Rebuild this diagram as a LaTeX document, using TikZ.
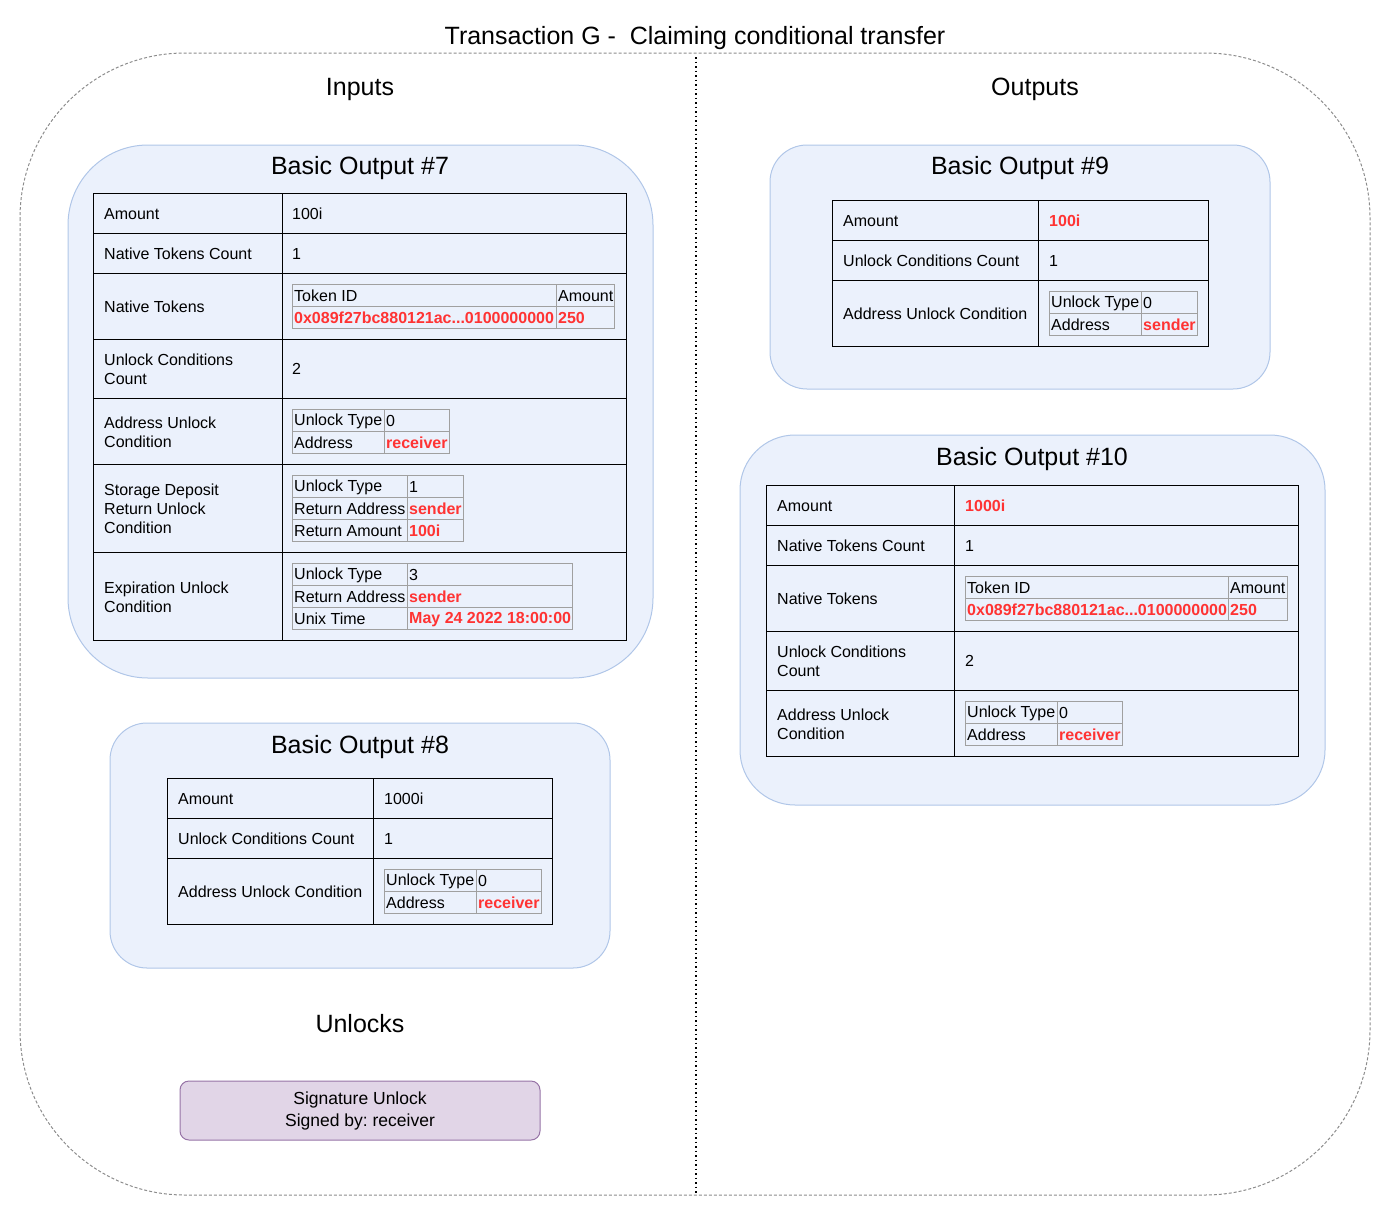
\documentclass[tikz,border=0pt]{standalone}
\usepackage{fontspec}
\setmainfont{Liberation Sans}
\frenchspacing
\definecolor{contfill}{RGB}{235,241,252}
\definecolor{contstroke}{RGB}{176,198,232}
\definecolor{igray}{RGB}{160,160,160}
\definecolor{redc}{RGB}{255,51,51}
\definecolor{outl}{RGB}{140,140,140}
\definecolor{sigfill}{RGB}{225,213,231}
\definecolor{sigdraw}{RGB}{150,115,166}
\newcommand\tf{\fontsize{16}{19}\selectfont}
\newcommand\hf{\fontsize{25}{30}\selectfont}
\newcommand\rv[1]{\textcolor{redc}{\bfseries #1}}
\tikzset{
  cont/.style={draw=contstroke, fill=contfill, line width=1pt},
  tbl/.style={draw=black, line width=1pt},
  itbl/.style={draw=igray, line width=1pt},
  txt/.style={anchor=west, inner sep=0pt, font=\tf, align=left, yshift=-1.2pt},
  ttl/.style={font=\hf, inner sep=0pt, yshift=-2.5pt},
}
% two-row key/value inner table: prefix, x1, y1, xs, x2, k1, v1, k2, v2
\newcommand\kvtwo[9]{%
  \draw[itbl] (#2,#3) rectangle (#5,{#3+44});
  \draw[itbl] (#2,{#3+22}) -- (#5,{#3+22});
  \draw[itbl] (#4,#3) -- (#4,{#3+44});
  \node[txt] (#1ka) at ({#2+2},{#3+11}) {#6};
  \node[txt] (#1va) at ({#4+2},{#3+11}) {#7};
  \node[txt] (#1kb) at ({#2+2},{#3+33}) {#8};
  \node[txt] (#1vb) at ({#4+2},{#3+33}) {#9};
}
\begin{document}
\begin{tikzpicture}[x=1pt,y=-1pt]
\useasboundingbox (0,0) rectangle (1392,1218);

% outer frame
\draw[outl, line width=1pt, dash pattern=on 3pt off 2pt, rounded corners=165pt] (20,53) rectangle (1370,1195);
\coordinate (divtop) at (696,57);
\coordinate (divbot) at (696,1195);
\draw[black, line width=1.5pt, dash pattern=on 1.5pt off 3pt] (divtop) -- (divbot);

\node[ttl] (title) at (695,36) {Transaction G -\ \ Claiming conditional transfer};
\node[ttl] (inputs) at (360,87) {Inputs};
\node[ttl] (outputs) at (1035,87) {Outputs};

% ---------------- Basic Output #7 ----------------
\draw[cont, rounded corners=80pt] (68,145) rectangle (653,678);
\node[ttl] (t7) at (360,166) {Basic Output \#7};
\draw[tbl] (93,193) rectangle (626,640);
\draw[tbl] (282,193) -- (282,640);
\foreach \yy in {233,273,339,398,464,552} \draw[tbl] (93,\yy) -- (626,\yy);
\node[txt] (a7l) at (104,213) {Amount};
\node[txt] (a7r) at (292,213) {100i};
\node[txt] (n7l) at (104,253) {Native Tokens Count};
\node[txt] (n7r) at (292,253) {1};
\node[txt] (nt7l) at (104,306) {Native Tokens};
\draw[itbl] (292,284) rectangle (614,328);
\draw[itbl] (292,306) -- (614,306);
\draw[itbl] (556,284) -- (556,328);
\node[txt] (nt7a) at (294,295) {Token ID};
\node[txt] (nt7b) at (558,295) {Amount};
\node[txt] (nt7c) at (294,317) {\rv{0x089f27bc880121ac...0100000000}};
\node[txt] (nt7d) at (558,317) {\rv{250}};
\node[txt] (u7l) at (104,368) {Unlock Conditions\\Count};
\node[txt] (u7r) at (292,368) {2};
\node[txt] (ad7l) at (104,431) {Address Unlock\\Condition};
\kvtwo{ad7}{292}{409}{384}{449}{Unlock Type}{0}{Address}{\rv{receiver}}
\node[txt] (sd7l) at (104,508) {Storage Deposit\\Return Unlock\\Condition};
\draw[itbl] (292,475) rectangle (463,541);
\draw[itbl] (292,497) -- (463,497);
\draw[itbl] (292,519) -- (463,519);
\draw[itbl] (407,475) -- (407,541);
\node[txt] (sd7a) at (294,486) {Unlock Type};
\node[txt] (sd7b) at (409,486) {1};
\node[txt] (sd7c) at (294,508) {Return Address};
\node[txt] (sd7d) at (409,508) {\rv{sender}};
\node[txt] (sd7e) at (294,530) {Return Amount};
\node[txt] (sd7f) at (409,530) {\rv{100i}};
\node[txt] (ex7l) at (104,596) {Expiration Unlock\\Condition};
\draw[itbl] (292,563) rectangle (572,629);
\draw[itbl] (292,585) -- (572,585);
\draw[itbl] (292,607) -- (572,607);
\draw[itbl] (407,563) -- (407,629);
\node[txt] (ex7a) at (294,574) {Unlock Type};
\node[txt] (ex7b) at (409,574) {3};
\node[txt] (ex7c) at (294,596) {Return Address};
\node[txt] (ex7d) at (409,596) {\rv{sender}};
\node[txt] (ex7e) at (294,618) {Unix Time};
\node[txt] (ex7f) at (409,618) {\rv{May 24 2022 18:00:00}};

% ---------------- Basic Output #8 ----------------
\draw[cont, rounded corners=37pt] (110,723) rectangle (610,968);
\node[ttl] (t8) at (360,745) {Basic Output \#8};
\draw[tbl] (167,778) rectangle (552,924);
\draw[tbl] (373,778) -- (373,924);
\foreach \yy in {818,858} \draw[tbl] (167,\yy) -- (552,\yy);
\node[txt] (a8l) at (178,798) {Amount};
\node[txt] (a8r) at (384,798) {1000i};
\node[txt] (u8l) at (178,838) {Unlock Conditions Count};
\node[txt] (u8r) at (384,838) {1};
\node[txt] (ad8l) at (178,891) {Address Unlock Condition};
\kvtwo{ad8}{384}{869}{476}{541}{Unlock Type}{0}{Address}{\rv{receiver}}

% ---------------- Unlocks ----------------
\node[ttl] (unlocks) at (360,1021) {Unlocks};
\node[draw=sigdraw, fill=sigfill, line width=1pt, rounded corners=9pt,
      minimum width=360pt, minimum height=59pt, inner sep=0pt,
      font=\fontsize{17.5}{22}\selectfont, align=center] (sig) at (360,1110.5)
      {Signature Unlock\\Signed by: receiver};

% ---------------- Basic Output #9 ----------------
\draw[cont, rounded corners=37pt] (770,145) rectangle (1270,389);
\node[ttl] (t9) at (1020,166) {Basic Output \#9};
\draw[tbl] (832,200) rectangle (1208,346);
\draw[tbl] (1038,200) -- (1038,346);
\foreach \yy in {240,280} \draw[tbl] (832,\yy) -- (1208,\yy);
\node[txt] (a9l) at (843,220) {Amount};
\node[txt] (a9r) at (1049,220) {\rv{100i}};
\node[txt] (u9l) at (843,260) {Unlock Conditions Count};
\node[txt] (u9r) at (1049,260) {1};
\node[txt] (ad9l) at (843,313) {Address Unlock Condition};
\kvtwo{ad9}{1049}{291}{1141}{1197}{Unlock Type}{0}{Address}{\rv{sender}}

% ---------------- Basic Output #10 ----------------
\draw[cont, rounded corners=55pt] (740,435) rectangle (1325,805);
\node[ttl] (t10) at (1032,457) {Basic Output \#10};
\draw[tbl] (766,485) rectangle (1298,756);
\draw[tbl] (954,485) -- (954,756);
\foreach \yy in {525,565,631,690} \draw[tbl] (766,\yy) -- (1298,\yy);
\node[txt] (a10l) at (777,505) {Amount};
\node[txt] (a10r) at (965,505) {\rv{1000i}};
\node[txt] (n10l) at (777,545) {Native Tokens Count};
\node[txt] (n10r) at (965,545) {1};
\node[txt] (nt10l) at (777,598) {Native Tokens};
\draw[itbl] (965,576) rectangle (1287,620);
\draw[itbl] (965,598) -- (1287,598);
\draw[itbl] (1228,576) -- (1228,620);
\node[txt] (nt10a) at (967,587) {Token ID};
\node[txt] (nt10b) at (1230,587) {Amount};
\node[txt] (nt10c) at (967,609) {\rv{0x089f27bc880121ac...0100000000}};
\node[txt] (nt10d) at (1230,609) {\rv{250}};
\node[txt] (u10l) at (777,660) {Unlock Conditions\\Count};
\node[txt] (u10r) at (965,660) {2};
\node[txt] (ad10l) at (777,723) {Address Unlock\\Condition};
\kvtwo{ad10}{965}{701}{1057}{1122}{Unlock Type}{0}{Address}{\rv{receiver}}
\end{tikzpicture}
\end{document}
